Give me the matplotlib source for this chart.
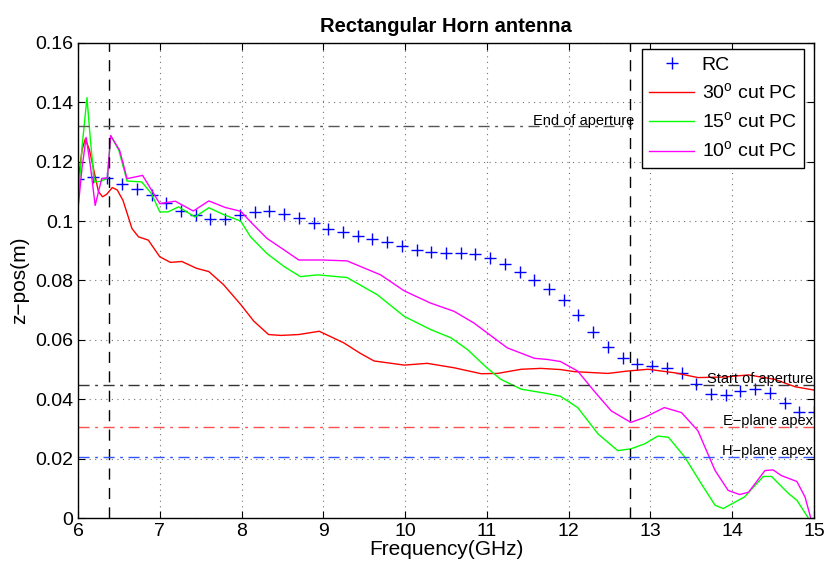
import numpy as np
import matplotlib
matplotlib.use("Agg")
import matplotlib.pyplot as plt
from matplotlib.ticker import FormatStrFormatter

plt.rcParams['font.family'] = ['Liberation Sans', 'DejaVu Sans']
plt.rcParams['mathtext.fontset'] = 'custom'
plt.rcParams['mathtext.rm'] = 'Liberation Sans'

# RC points (every 0.18 GHz)
rc_freq = np.linspace(6, 15, 51)
rc_z = [0.1143, 0.1148, 0.1145, 0.1126, 0.1109, 0.1087, 0.1061, 0.1033, 0.1020, 0.1007,
        0.1007, 0.1022, 0.1031, 0.1033, 0.1025, 0.1010, 0.0994, 0.0975, 0.0962, 0.0951,
        0.0940, 0.0928, 0.0916, 0.0903, 0.0895, 0.0891, 0.0891, 0.0888, 0.0875, 0.0855,
        0.0830, 0.0802, 0.0771, 0.0733, 0.0683, 0.0626, 0.0576, 0.0538, 0.0520, 0.0512,
        0.0506, 0.0489, 0.0451, 0.0419, 0.0414, 0.0428, 0.0434, 0.0420, 0.0386, 0.0358,
        0.0358]

# 30 deg cut PC
pc30_freq = [6.00, 6.05, 6.09, 6.14, 6.19, 6.25, 6.30, 6.35, 6.42, 6.48, 6.55, 6.62, 6.66,
             6.74, 6.86, 7.00, 7.13, 7.27, 7.45, 7.60, 7.78, 7.99, 8.15, 8.33, 8.48, 8.70,
             8.95, 9.25, 9.45, 9.62, 9.99, 10.27, 10.60, 10.93, 11.13, 11.42, 11.66, 11.90,
             12.07, 12.48, 12.72, 12.97, 13.30, 13.58, 13.91, 14.20, 14.52, 14.77, 15.00]
pc30_z = [0.113, 0.124, 0.1277, 0.124, 0.1176, 0.110, 0.1082, 0.109, 0.1113, 0.1105, 0.1070,
          0.1010, 0.0975, 0.0947, 0.0936, 0.0880, 0.0861, 0.0864, 0.0841, 0.0830, 0.0786,
          0.0719, 0.0663, 0.0618, 0.0615, 0.0618, 0.0629, 0.0590, 0.0555, 0.0529, 0.0515,
          0.0521, 0.0506, 0.0486, 0.0487, 0.0501, 0.0504, 0.0500, 0.0493, 0.0487, 0.0495,
          0.0501, 0.0489, 0.0473, 0.0475, 0.0482, 0.0467, 0.0442, 0.0431]

# 15 deg cut PC
pc15_freq = [6.00, 6.05, 6.11, 6.15, 6.20, 6.28, 6.36, 6.40, 6.50, 6.60, 6.78, 6.90, 7.00,
             7.10, 7.23, 7.43, 7.60, 7.78, 7.99, 8.11, 8.31, 8.52, 8.72, 8.93, 9.29, 9.66,
             9.99, 10.31, 10.56, 10.76, 11.00, 11.17, 11.42, 11.74, 11.90, 12.11, 12.36,
             12.60, 12.76, 12.93, 13.09, 13.22, 13.42, 13.62, 13.79, 13.89, 14.15, 14.38,
             14.48, 14.69, 14.79, 14.93, 15.00]
pc15_z = [0.106, 0.125, 0.1416, 0.128, 0.1132, 0.1134, 0.1145, 0.1288, 0.1238, 0.1135,
          0.1132, 0.1092, 0.1031, 0.1031, 0.1048, 0.1014, 0.1045, 0.1022, 0.1000, 0.0947,
          0.0891, 0.0847, 0.0813, 0.0819, 0.0810, 0.0752, 0.0679, 0.0635, 0.0607, 0.0568,
          0.0506, 0.0467, 0.0434, 0.0419, 0.0410, 0.0372, 0.0283, 0.0227, 0.0233, 0.0250,
          0.0276, 0.0272, 0.0205, 0.0116, 0.0043, 0.0032, 0.0071, 0.0140, 0.0140, 0.0082,
          0.0060, 0.0, -0.003]

# 10 deg cut PC
pc10_freq = [6.00, 6.05, 6.10, 6.15, 6.21, 6.29, 6.36, 6.40, 6.51, 6.60, 6.79, 7.00, 7.19,
             7.41, 7.60, 7.80, 7.99, 8.13, 8.31, 8.52, 8.70, 9.00, 9.29, 9.70, 9.99, 10.31,
             10.60, 10.84, 11.03, 11.25, 11.58, 11.74, 11.90, 12.11, 12.31, 12.52, 12.76,
             12.93, 13.17, 13.38, 13.58, 13.79, 13.95, 14.09, 14.20, 14.40, 14.50, 14.60,
             14.79, 14.89, 14.96]
pc10_z = [0.104, 0.118, 0.1282, 0.119, 0.1053, 0.1143, 0.1146, 0.1288, 0.1238, 0.1143,
          0.1154, 0.1059, 0.1067, 0.1034, 0.1068, 0.1046, 0.1033, 0.0992, 0.0942, 0.0903,
          0.0869, 0.0869, 0.0866, 0.0819, 0.0765, 0.0724, 0.0696, 0.0657, 0.0618, 0.0573,
          0.0538, 0.0534, 0.0527, 0.0495, 0.0428, 0.0361, 0.0322, 0.0339, 0.0372, 0.0355,
          0.0294, 0.0160, 0.0093, 0.0079, 0.0087, 0.0160, 0.0162, 0.0143, 0.0123, 0.0071,
          0.0]

# reference lines
v_lines = [6.38, 12.75]
end_aperture = 0.1319
start_aperture = 0.0448
e_apex = 0.0305
h_apex = 0.0205

fig = plt.figure(figsize=(8.26, 5.70), dpi=100)
ax = fig.add_axes([0.0944, 0.0912, 0.8911, 0.8334])

ax.plot(rc_freq, rc_z, '+', color='blue', markersize=8, markeredgewidth=1.0, label='RC')
ax.plot(pc30_freq, pc30_z, color='#ff0000', lw=1.0, label=r'30$^{\rm o}$ cut PC')
ax.plot(pc15_freq, pc15_z, color='#00ff00', lw=1.0, label=r'15$^{\rm o}$ cut PC')
ax.plot(pc10_freq, pc10_z, color='#ff00ff', lw=1.0, label=r'10$^{\rm o}$ cut PC')

for v in v_lines:
    ax.axvline(v, color='black', ls=(0, (8, 6)), lw=1.0)

ax.plot([6, v_lines[1]], [end_aperture, end_aperture], color='#555555', ls=(0, (8, 4, 2, 4)), lw=1.0)
ax.axhline(start_aperture, color='#333333', ls=(0, (8, 4, 2, 4)), lw=1.0)
ax.axhline(e_apex, color='#ff5050', ls=(0, (8, 4, 2, 4)), lw=1.0)
ax.axhline(h_apex, color='#3355ff', ls=(0, (8, 4, 2, 4)), lw=1.0)

tfs = 10.5
ax.text(12.8, end_aperture + 0.0017, 'End of aperture', ha='right', va='center', fontsize=tfs)
ax.text(14.99, start_aperture + 0.0021, 'Start of aperture', ha='right', va='center', fontsize=tfs)
ax.text(14.99, e_apex + 0.0023, 'E\u2212plane apex', ha='right', va='center', fontsize=tfs)
ax.text(14.99, h_apex + 0.0022, 'H\u2212plane apex', ha='right', va='center', fontsize=tfs)

ax.set_xlim(6, 15)
ax.set_ylim(0, 0.16)
ax.set_xticks(np.arange(6, 16, 1))
ax.set_yticks(np.arange(0, 0.161, 0.02))
ax.yaxis.set_major_formatter(FormatStrFormatter('%g'))
ax.tick_params(direction='in', top=True, right=True, labelsize=14, length=5, width=0.8)
ax.grid(True, color='0.45', ls=(0, (1, 4)), lw=0.8)
for s in ax.spines.values():
    s.set_linewidth(1.0)

ax.set_xlabel('Frequency(GHz)', fontsize=15, labelpad=0)
ax.set_ylabel('z\u2212pos(m)', fontsize=15, labelpad=4)
ax.set_title('Rectangular Horn antenna', fontsize=14.5, fontweight='bold', pad=8)

leg = ax.legend(loc='upper right', bbox_to_anchor=(0.986, 0.987), borderaxespad=0,
                fontsize=14, fancybox=False, framealpha=1, edgecolor='black',
                handlelength=2.3, labelspacing=0.44, borderpad=0.35, handletextpad=0.4)
leg.get_frame().set_linewidth(1.0)

fig.savefig('out.png', dpi=100)
